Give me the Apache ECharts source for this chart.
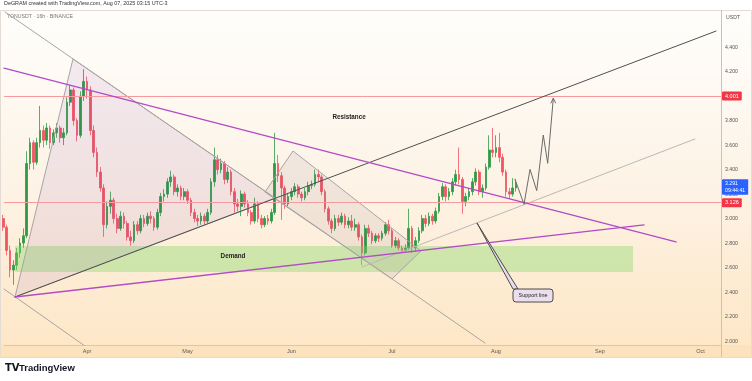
<!DOCTYPE html>
<html><head><meta charset="utf-8">
<script src="https://cdn.jsdelivr.net/npm/echarts@6/dist/echarts.min.js"></script>
<style>html,body{margin:0;padding:0;background:#fff}#c{width:752px;height:381px}</style>
</head><body><div id="c"></div>
<script>
// ---------- data ----------
const priceTicks = [2.0,2.2,2.4,2.6,2.8,3.0,3.2,3.4,3.6,3.8,4.0,4.2,4.4];
const monthTicks = ['2025-04-01 00:00','2025-05-01 00:00','2025-06-01 00:00','2025-07-01 00:00','2025-08-01 00:00','2025-09-01 00:00','2025-10-01 00:00'];
const monthLabels = ['Apr','May','Jun','Jul','Aug','Sep','Oct'];
const xRange = ['2025-03-07 05:45','2025-10-07 03:20'];
const yRange = [1.968, 4.703];

// daily OHLC rows [open, close, low, high]
const marFrom7 = [[3.00,2.93,2.90,3.03],[2.93,2.74,2.70,2.95],[2.74,2.58,2.52,2.78],[2.58,2.62,2.46,2.66],[2.62,2.72,2.58,2.76],[2.72,2.80,2.68,2.84],[2.80,2.86,2.76,2.92],[2.86,3.45,2.84,3.55],[3.45,3.62,3.40,3.66],[3.62,3.46,3.40,3.64],[3.46,3.62,3.44,3.66],[3.62,3.72,3.58,3.92],[3.72,3.64,3.58,3.76],[3.64,3.74,3.60,3.78],[3.74,3.62,3.57,3.76],[3.62,3.70,3.60,3.73],[3.70,3.74,3.66,3.78],[3.74,3.66,3.62,3.76],[3.66,3.70,3.60,3.74],[3.70,3.95,3.68,3.99],[3.95,4.05,3.92,4.09],[4.05,3.80,3.76,4.07],[3.80,3.68,3.63,3.82],[3.68,4.00,3.66,4.04],[4.00,4.12,3.96,4.22]];
const apr = [[4.12,4.05,3.98,4.16],[4.05,3.72,3.68,4.08],[3.72,3.54,3.50,3.76],[3.54,3.38,3.34,3.58],[3.38,3.25,3.22,3.42],[3.25,2.95,2.85,3.28],[2.95,3.10,2.92,3.14],[3.10,3.15,3.04,3.22],[3.15,3.00,2.96,3.17],[3.00,2.92,2.88,3.04],[2.92,3.02,2.90,3.06],[3.02,2.96,2.92,3.05],[2.96,2.85,2.82,2.98],[2.85,2.82,2.78,2.90],[2.82,2.95,2.80,2.98],[2.95,2.90,2.87,2.98],[2.90,3.00,2.88,3.03],[3.00,2.96,2.93,3.03],[2.96,3.02,2.94,3.05],[3.02,3.00,2.96,3.06],[3.00,2.93,2.90,3.02],[2.93,3.05,2.91,3.08],[3.05,3.18,3.02,3.21],[3.18,3.20,3.14,3.24],[3.20,3.30,3.17,3.33],[3.30,3.34,3.26,3.39],[3.34,3.22,3.19,3.36],[3.22,3.25,3.18,3.28],[3.25,3.18,3.15,3.27],[3.18,3.22,3.15,3.25]];
const may = [[3.22,3.15,3.12,3.24],[3.15,3.05,3.02,3.17],[3.05,3.00,2.97,3.08],[3.00,2.98,2.94,3.03],[2.98,3.02,2.95,3.05],[3.02,2.98,2.95,3.04],[2.98,3.05,2.96,3.08],[3.05,3.30,3.03,3.33],[3.30,3.48,3.26,3.58],[3.48,3.40,3.36,3.52],[3.40,3.45,3.37,3.49],[3.45,3.32,3.28,3.47],[3.32,3.38,3.29,3.42],[3.38,3.22,3.19,3.40],[3.22,3.12,3.05,3.25],[3.12,3.10,3.06,3.16],[3.10,3.20,3.02,3.23],[3.20,3.12,3.09,3.22],[3.12,3.05,3.02,3.15],[3.05,2.98,2.95,3.07],[2.98,3.12,2.96,3.17],[3.12,3.00,2.97,3.14],[3.00,2.95,2.92,3.03],[2.95,3.00,2.93,3.02],[3.00,2.98,2.95,3.03],[2.98,3.05,2.96,3.08],[3.05,3.45,3.03,3.70],[3.45,3.35,3.30,3.52],[3.35,3.25,2.99,3.38],[3.25,3.12,3.08,3.27],[3.12,3.18,3.10,3.21]];
const jun = [[3.18,3.22,3.15,3.25],[3.22,3.26,3.19,3.29],[3.26,3.20,3.17,3.28],[3.20,3.17,3.14,3.22],[3.17,3.22,3.15,3.25],[3.22,3.27,3.19,3.30],[3.27,3.28,3.24,3.31],[3.28,3.36,3.26,3.40],[3.36,3.34,3.30,3.40],[3.34,3.22,3.19,3.36],[3.22,3.08,3.05,3.24],[3.08,2.98,2.95,3.10],[2.98,2.92,2.88,3.00],[2.92,3.00,2.90,3.03],[3.00,2.97,2.94,3.03],[2.97,3.02,2.95,3.05],[3.02,2.95,2.92,3.04],[2.95,2.98,2.92,3.01],[2.98,2.93,2.90,3.03],[2.93,2.95,2.90,3.00],[2.95,2.85,2.82,2.97],[2.85,2.72,2.62,2.87],[2.72,2.92,2.70,2.95],[2.92,2.88,2.85,2.95],[2.88,2.82,2.79,2.90],[2.82,2.86,2.80,2.88],[2.86,2.84,2.81,2.88],[2.84,2.88,2.82,2.90],[2.88,2.95,2.86,2.97],[2.95,2.90,2.87,2.99]];
const jul = [[2.90,2.78,2.76,2.92],[2.78,2.82,2.76,2.85],[2.82,2.76,2.74,2.84],[2.76,2.74,2.72,2.78],[2.74,2.76,2.72,2.79],[2.76,2.92,2.74,3.08],[2.92,2.76,2.72,2.94],[2.76,2.82,2.73,2.85],[2.82,2.90,2.80,2.93],[2.90,3.00,2.88,3.03],[3.00,2.96,2.93,3.03],[2.96,3.02,2.94,3.05],[3.02,2.98,2.95,3.04],[2.98,3.06,2.96,3.09],[3.06,3.18,3.04,3.21],[3.18,3.26,3.15,3.29],[3.26,3.18,3.14,3.28],[3.18,3.22,3.15,3.25],[3.22,3.30,3.19,3.33],[3.30,3.36,3.27,3.40],[3.36,3.32,3.28,3.58],[3.32,3.14,3.04,3.34],[3.14,3.18,3.10,3.21],[3.18,3.22,3.15,3.25],[3.22,3.30,3.19,3.33],[3.30,3.38,3.27,3.41],[3.38,3.22,3.19,3.40],[3.22,3.25,3.17,3.28],[3.25,3.42,3.23,3.45],[3.42,3.56,3.40,3.68],[3.56,3.54,3.50,3.74]];
const aug = [[3.54,3.58,3.50,3.68],[3.58,3.50,3.46,3.70],[3.50,3.38,3.35,3.53],[3.38,3.22,3.18,3.40],[3.22,3.20,3.16,3.25],[3.20,3.25,3.18,3.33],[3.25,3.291,3.22,3.32]];
const monthBlocks = [['2025-03-07', marFrom7],['2025-04-01', apr],['2025-05-01', may],['2025-06-01', jun],['2025-07-01', jul],['2025-08-01', aug]];

const hLevels = [4.001, 3.126];
const lastPrice = 3.291;
const countdown = '09:44:41';

// drawings (data space: [time, price])
const resistanceLine = [['2025-03-07 06:00',4.229],['2025-09-23 17:00',2.809]];
const risingPurple   = [['2025-03-10 12:30',2.360],['2025-09-14 04:00',2.948]];
const blackTrend     = [['2025-03-10 12:30',2.360],['2025-10-05 15:36',4.531]];
const longGray       = [['2025-03-07 13:00',4.687],['2025-07-28 17:45',1.984]];
const lowerGray      = [['2025-03-07 06:00',2.425],['2025-04-03 12:00',1.90]];
const thinSupport    = [['2025-06-22 01:00',2.605],['2025-09-29 09:00',3.650]];
const triangle       = [['2025-03-10 12:30',2.360],['2025-03-27 19:40',4.303],['2025-05-27 02:00',3.168]];
const channel        = [['2025-06-01 11:00',3.552],['2025-05-24 02:30',3.217],['2025-06-30 23:45',2.507],['2025-07-09 15:00',2.736]];
const demandZone     = [['2025-03-10 12:30',2.776],['2025-09-10 21:20',2.564]];
const projection     = [['2025-08-06 16:20',3.321],['2025-08-09 09:00',3.117],['2025-08-11 04:00',3.402],['2025-08-13 04:00',3.228],['2025-08-15 03:00',3.682],['2025-08-16 10:30',3.451],['2025-08-18 02:40',3.982]];
const arrowHead      = [['2025-08-17 10:00',3.944],['2025-08-18 02:40',3.982],['2025-08-18 18:30',3.944]];
const calloutTip     = ['2025-07-26 08:20',2.964];
const calloutBase    = [['2025-08-06 02:10',2.425],['2025-08-07 14:00',2.425]];
const calloutBox     = [['2025-08-06 02:10',2.425],['2025-08-18 00:30',2.319]];
const calloutText    = 'Support line';
const labelTexts     = [['Resistance',['2025-06-18 04:00',3.829]],['Demand',['2025-05-14 13:30',2.695]]];

// ---------- helpers ----------
// x axis is a value axis in days since 2025-04-01 00:00 (local time)
const DAY0 = new Date(2025,3,1).getTime();
function T(s){ const [d,t='00:00'] = s.split(' '); const [y,m,dd] = d.split('-').map(Number); const [h,mi] = t.split(':').map(Number);
  return (new Date(y,m-1,dd,h,mi).getTime() - DAY0) / 86400000; }
const P = p => [T(p[0]), p[1]];
const candles = [];
monthBlocks.forEach(([start, rows]) => {
  const [y,m,d] = start.split('-').map(Number);
  rows.forEach((r,i) => candles.push([(new Date(y,m-1,d+i).getTime() - DAY0) / 86400000, r[0], r[1], r[2], r[3]]));
});
const monthTickVals = monthTicks.map(T);

const FONT = '"Liberation Sans", Arial, sans-serif';
function lineS(pts, color, width, z){
  return {type:'line', data: pts.map(P), showSymbol:false, symbol:'none', silent:true, z: z||5,
    lineStyle:{color, width, cap:'round'}, animation:false, clip:true};
}
function polyS(pts, fill, stroke, z){
  return {type:'custom', coordinateSystem:'cartesian2d', silent:true, z, animation:false,
    data:[P(pts[0])],
    renderItem:(params, api) => ({type:'polygon', shape:{points: pts.map(p => api.coord(P(p)))},
      style:{fill, stroke, lineWidth: stroke ? 1 : 0}})};
}
function rectPts(c){ return [[c[0][0],c[0][1]],[c[1][0],c[0][1]],[c[1][0],c[1][1]],[c[0][0],c[1][1]]]; }

const markData = hLevels.map(v => ({yAxis:v, lineStyle:{color:'#f59a9f', width:1, type:'solid'},
  label:{show:true, position:'end', distance:1, formatter: v.toFixed(3), color:'#fff', backgroundColor:'#f23645',
    fontSize:5.5, fontFamily:FONT, padding:[2,3,1,3], borderRadius:1}}));
markData.push({yAxis:lastPrice, lineStyle:{color:'rgba(0,0,0,0)', width:0},
  label:{show:true, position:'end', distance:1, formatter: lastPrice.toFixed(3) + '\n' + countdown, color:'#fff',
    backgroundColor:'#2962ff', fontSize:5.2, lineHeight:6.5, fontFamily:FONT, padding:[1.5,3,1,3], offset:[0,4], borderRadius:1}});

const option = {
  animation:false,
  backgroundColor:'transparent',
  grid:{left:4, right:31, top:10, bottom:36, containLabel:false},
  xAxis:{type:'value', min:T(xRange[0]), max:T(xRange[1]),
    axisLine:{show:true, lineStyle:{color:'#d4c8b4'}}, axisTick:{show:false}, splitLine:{show:false},
    axisLabel:{customValues: monthTickVals, formatter: v => { const i = monthTickVals.findIndex(m => Math.abs(m - v) < 0.01); return i >= 0 ? monthLabels[i] : ''; },
      color:'#555', fontSize:5.5, fontFamily:FONT, margin:3, showMinLabel:true, showMaxLabel:true}},
  yAxis:{type:'value', position:'right', min:yRange[0], max:yRange[1],
    axisLine:{show:false}, axisTick:{show:false}, splitLine:{show:false},
    axisLabel:{customValues: priceTicks, formatter: v => v.toFixed(3), color:'#555', fontSize:5.2, fontFamily:FONT, margin:4}},
  graphic:[
    {type:'rect', z:-10, silent:true, shape:{x:0.5,y:10.5,width:751,height:347},
      style:{fill:{type:'linear',x:0,y:0,x2:0,y2:1,colorStops:[{offset:0,color:'#fffefc'},{offset:0.5,color:'#fdf3e6'},{offset:1,color:'#fde6c4'}]}, stroke:'#e2dcd4', lineWidth:1}},
    {type:'rect', z:-9, silent:true, shape:{x:0,y:345,width:752,height:12}, style:{fill:'rgba(250,222,175,0.35)'}},
    {type:'line', z:-8, silent:true, shape:{x1:721.5,y1:10,x2:721.5,y2:357}, style:{stroke:'#c9c2b8', lineWidth:1}},
    {type:'text', left:4, top:1, silent:true, style:{text:'DeGRAM created with TradingView.com, Aug 07, 2025 03:15 UTC-3', font:'5.4px '+FONT, fill:'#333'}},
    {type:'text', left:7, top:14, silent:true, style:{text:'TONUSDT · 16h · BINANCE', font:'5.2px '+FONT, fill:'#777'}},
    {type:'text', left:726, top:15, silent:true, style:{text:'USDT', font:'5.2px '+FONT, fill:'#555'}},
    {type:'text', left:5, top:363, silent:true, style:{text:'TV', font:'900 10px "DejaVu Sans", sans-serif', fill:'#131722'}},
    {type:'text', left:19, top:363, silent:true, style:{text:'TradingView', font:'600 9.5px '+FONT, fill:'#131722'}}
  ],
  series:[
    {type:'candlestick', data:candles, encode:{x:0, y:[1,2,3,4]}, barWidth:2.2, z:2, silent:true,
      itemStyle:{color:'#2f9a45', color0:'#ef5663', borderColor:'#2f9a45', borderColor0:'#ef5663', borderWidth:0.8},
      markLine:{symbol:'none', silent:true, animation:false, data:markData}},
    polyS(rectPts(demandZone), 'rgba(130,215,100,0.38)', null, 3),
    polyS(triangle, 'rgba(120,60,180,0.09)', '#a8a3a8', 3),
    polyS(channel, 'rgba(110,90,120,0.09)', '#a8a3a8', 3),
    lineS(longGray, '#a9a4a4', 1, 4),
    lineS(lowerGray, '#a9a4a4', 1, 4),
    lineS(thinSupport, '#bdb7b7', 1, 4),
    lineS(blackTrend, '#505050', 1, 5),
    lineS(resistanceLine, '#b24bc6', 1.3, 6),
    lineS(risingPurple, '#b24bc6', 1.3, 6),
    lineS(projection, '#6b6b6b', 1, 6),
    lineS(arrowHead, '#6b6b6b', 1, 6),
    {type:'custom', coordinateSystem:'cartesian2d', silent:true, z:7, animation:false, data:[P(calloutTip)],
      renderItem:(params, api) => {
        const tip = api.coord(P(calloutTip));
        const b1 = api.coord(P(calloutBase[0])), b2 = api.coord(P(calloutBase[1]));
        const c1 = api.coord(P(calloutBox[0])), c2 = api.coord(P(calloutBox[1]));
        return {type:'group', children:[
          {type:'polygon', shape:{points:[tip,b1,b2]}, style:{fill:'#e9dcea', stroke:'#4a4a4a', lineWidth:1}},
          {type:'rect', shape:{x:c1[0], y:c1[1], width:c2[0]-c1[0], height:c2[1]-c1[1], r:3}, style:{fill:'#ecdfed', stroke:'#4a4a4a', lineWidth:1}},
          {type:'text', x:(c1[0]+c2[0])/2, y:(c1[1]+c2[1])/2, style:{text:calloutText, fill:'#222', font:'5.4px '+FONT, align:'center', verticalAlign:'middle'}}
        ]};
      }},
    {type:'custom', coordinateSystem:'cartesian2d', silent:true, z:8, animation:false, data:labelTexts.map(l => P(l[1])),
      renderItem:(params, api) => {
        const l = labelTexts[params.dataIndex];
        const c = api.coord(P(l[1]));
        return {type:'text', x:c[0], y:c[1], style:{text:l[0], fill:'#222', font:'bold 6.3px '+FONT, align:'center', verticalAlign:'middle'}};
      }}
  ]
};
const chart = echarts.init(document.getElementById('c'), null, {renderer:'canvas'});
chart.setOption(option);
</script>
</body></html>
